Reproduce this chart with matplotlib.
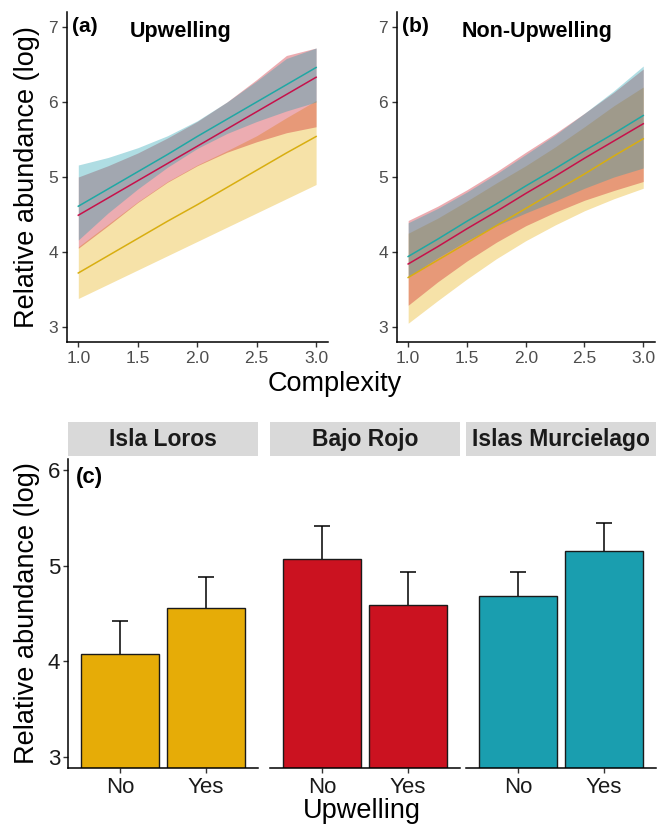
import matplotlib
matplotlib.use('Agg')
import matplotlib.pyplot as plt
from matplotlib.patches import Rectangle

plt.rcParams['font.family'] = ['Liberation Sans', 'DejaVu Sans']

# ---------------- data ----------------
complexity = [1.0, 1.25, 1.5, 1.75, 2.0, 2.25, 2.5, 2.75, 3.0]
sites = ['Isla Loros', 'Bajo Rojo', 'Islas Murcielago']
site_colors = ['#E6AC07', '#CB1220', '#1A9EAF']
line_colors = ['#D8AE10', '#C8104A', '#1FA8A4']

# Panel (a) Upwelling: fitted lines and confidence bands
up_fit_loros = [3.72, 3.95, 4.18, 4.41, 4.63, 4.86, 5.09, 5.32, 5.54]
up_lo_loros = [3.38, 3.57, 3.76, 3.95, 4.14, 4.33, 4.52, 4.71, 4.90]
up_hi_loros = [4.07, 4.37, 4.67, 4.94, 5.16, 5.35, 5.55, 5.79, 6.02]
up_fit_bajo = [4.49, 4.72, 4.95, 5.18, 5.41, 5.64, 5.87, 6.10, 6.33]
up_lo_bajo = [4.05, 4.35, 4.66, 4.93, 5.15, 5.33, 5.47, 5.59, 5.67]
up_hi_bajo = [5.00, 5.15, 5.32, 5.52, 5.74, 6.00, 6.30, 6.62, 6.72]
up_fit_murc = [4.61, 4.84, 5.07, 5.30, 5.54, 5.77, 6.00, 6.23, 6.46]
up_lo_murc = [4.16, 4.52, 4.84, 5.13, 5.38, 5.58, 5.74, 5.88, 6.00]
up_hi_murc = [5.16, 5.26, 5.39, 5.55, 5.75, 6.00, 6.28, 6.58, 6.72]

# Panel (b) Non-Upwelling
nu_fit_loros = [3.66, 3.89, 4.12, 4.35, 4.58, 4.81, 5.04, 5.28, 5.51]
nu_lo_loros = [3.05, 3.35, 3.64, 3.91, 4.15, 4.36, 4.55, 4.71, 4.85]
nu_hi_loros = [4.25, 4.45, 4.68, 4.92, 5.15, 5.40, 5.67, 5.95, 6.20]
nu_fit_bajo = [3.84, 4.07, 4.31, 4.54, 4.78, 5.01, 5.25, 5.48, 5.71]
nu_lo_bajo = [3.29, 3.60, 3.88, 4.13, 4.35, 4.53, 4.69, 4.82, 4.94]
nu_hi_bajo = [4.42, 4.61, 4.83, 5.07, 5.33, 5.58, 5.85, 6.13, 6.44]
nu_fit_murc = [3.94, 4.17, 4.41, 4.64, 4.88, 5.11, 5.35, 5.58, 5.82]
nu_lo_murc = [3.67, 3.92, 4.15, 4.35, 4.52, 4.68, 4.85, 5.00, 5.12]
nu_hi_murc = [4.39, 4.58, 4.80, 5.04, 5.30, 5.56, 5.85, 6.15, 6.48]

# Panel (c) bars
upwelling_levels = ['No', 'Yes']
bar_no = [4.08, 5.07, 4.68]
bar_yes = [4.56, 4.59, 5.16]
err_no = [0.34, 0.35, 0.25]
err_yes = [0.32, 0.35, 0.285]

# ---------------- figure ----------------
W, H = 666, 827
fig = plt.figure(figsize=(W / 100, H / 100), dpi=100)


def fig_rect(left, top, right, bottom):
    return [left / W, 1 - bottom / H, (right - left) / W, (bottom - top) / H]


tick_gray = '#4D4D4D'


def style_line_axes(ax):
    for s in ['top', 'right']:
        ax.spines[s].set_visible(False)
    for s in ['left', 'bottom']:
        ax.spines[s].set_linewidth(1.1)
        ax.spines[s].set_color('black')
    ax.tick_params(axis='both', length=3.5, width=1.0, color='#333333',
                   labelsize=12.5, labelcolor=tick_gray, pad=3)
    ax.set_xlim(0.905, 3.1)
    ax.set_ylim(2.8, 7.2)
    ax.set_xticks([1.0, 1.5, 2.0, 2.5, 3.0])
    ax.set_xticklabels(['1.0', '1.5', '2.0', '2.5', '3.0'])
    ax.set_yticks([3, 4, 5, 6, 7])


def draw_panel(ax, fits, los, his):
    for lo, hi, fc in zip(los, his, site_colors):
        ax.fill_between(complexity, lo, hi, color=fc, alpha=0.35, linewidth=0)
    for fit, lc in zip(fits, line_colors):
        ax.plot(complexity, fit, color=lc, linewidth=1.1)


axa = fig.add_axes(fig_rect(67, 12, 328, 342))
style_line_axes(axa)
draw_panel(axa, [up_fit_loros, up_fit_bajo, up_fit_murc],
           [up_lo_loros, up_lo_bajo, up_lo_murc],
           [up_hi_loros, up_hi_bajo, up_hi_murc])
axa.text(0.02, 0.985, '(a)', transform=axa.transAxes, fontsize=15,
         fontweight='bold', va='top', ha='left')
axa.text(0.241, 0.972, 'Upwelling', transform=axa.transAxes, fontsize=15.5,
         fontweight='bold', va='top', ha='left')

axb = fig.add_axes(fig_rect(397, 12, 655, 342))
style_line_axes(axb)
draw_panel(axb, [nu_fit_loros, nu_fit_bajo, nu_fit_murc],
           [nu_lo_loros, nu_lo_bajo, nu_lo_murc],
           [nu_hi_loros, nu_hi_bajo, nu_hi_murc])
axb.text(0.02, 0.985, '(b)', transform=axb.transAxes, fontsize=15,
         fontweight='bold', va='top', ha='left')
axb.text(0.252, 0.972, 'Non-Upwelling', transform=axb.transAxes, fontsize=15.5,
         fontweight='bold', va='top', ha='left')

fig.text(27 / W, 1 - 177 / H, 'Relative abundance (log)', rotation=90,
         ha='center', va='center', fontsize=19.5)
fig.text(335 / W, 1 - 384 / H, 'Complexity', ha='center', va='center',
         fontsize=19.5)

# ---------------- panel (c) ----------------
panel_lefts = [68, 270, 466]
panel_w = 190
for i, (site, col) in enumerate(zip(sites, site_colors)):
    ax = fig.add_axes(fig_rect(panel_lefts[i], 459, panel_lefts[i] + panel_w, 768))
    vals = [bar_no[i], bar_yes[i]]
    errs = [err_no[i], err_yes[i]]
    xs = [1, 2]
    tops = [v + e for v, e in zip(vals, errs)]
    ax.bar(xs, vals, width=0.9, color=col, edgecolor='#1a1a1a', linewidth=1.0, zorder=2)
    ax.vlines(xs, vals, tops, colors='black', linewidth=1.1, zorder=1)
    ax.hlines(tops, [x - 0.09 for x in xs], [x + 0.09 for x in xs],
              colors='black', linewidth=1.1, zorder=1)
    ax.set_xlim(0.4, 2.6)
    ax.set_ylim(2.88, 6.12)
    ax.set_xticks(xs)
    ax.set_xticklabels(upwelling_levels)
    for s in ['top', 'right']:
        ax.spines[s].set_visible(False)
    ax.spines['bottom'].set_linewidth(1.1)
    ax.tick_params(axis='x', length=3.5, width=1.0, color='#333333',
                   labelsize=16, labelcolor='#1a1a1a', pad=3)
    if i == 0:
        ax.spines['left'].set_linewidth(1.1)
        ax.set_yticks([3, 4, 5, 6])
        ax.tick_params(axis='y', length=3.5, width=1.0, color='#333333',
                       labelsize=16, labelcolor='#1a1a1a', pad=2)
        ax.text(0.04, 0.975, '(c)', transform=ax.transAxes, fontsize=16,
                fontweight='bold', va='top', ha='left')
    else:
        ax.spines['left'].set_visible(False)
        ax.set_yticks([])
    # facet strip
    strip = Rectangle((0, 1.0097), 1.0, 0.11, transform=ax.transAxes,
                      facecolor='#D9D9D9', edgecolor='none', clip_on=False)
    ax.add_patch(strip)
    ax.text(0.5, 1.0097 + 0.055, site, transform=ax.transAxes, ha='center',
            va='center', fontsize=16.5, fontweight='bold', color='#1a1a1a')

fig.text(27 / W, 1 - 613 / H, 'Relative abundance (log)', rotation=90,
         ha='center', va='center', fontsize=19.5)
fig.text(362 / W, 1 - 811 / H, 'Upwelling', ha='center', va='center',
         fontsize=19.5)

fig.savefig('out.png', dpi=100)
